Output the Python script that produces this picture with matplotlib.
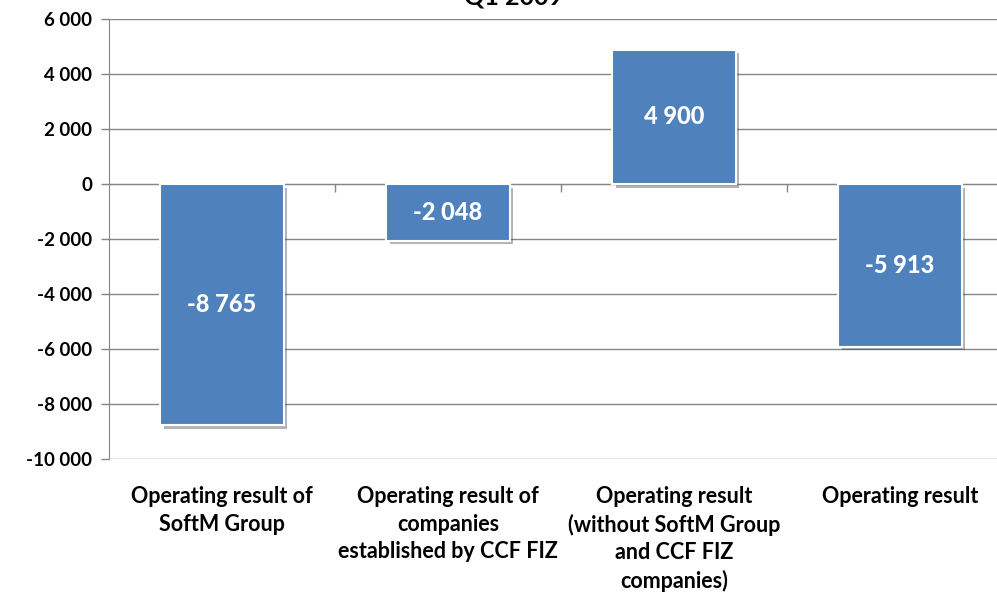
import matplotlib
matplotlib.use("Agg")
import matplotlib.pyplot as plt
import matplotlib.patheffects as pe
from matplotlib.transforms import blended_transform_factory

categories = [
    "Operating result of\nSoftM Group",
    "Operating result of\ncompanies\nestablished by CCF FIZ",
    "Operating result\n(without SoftM Group\nand CCF FIZ\ncompanies)",
    "Operating result",
]
values = [-8765, -2048, 4900, -5913]
yticks = [6000, 4000, 2000, 0, -2000, -4000, -6000, -8000, -10000]
title = "Q1 2009"


def fmt(v):
    return f"{v:,}".replace(",", " ")


plt.rcParams["font.family"] = ["Lato", "DejaVu Sans"]

fig = plt.figure(figsize=(9.97, 5.94), dpi=100, facecolor="white")
ax = fig.add_axes([0.1093, 0.2273, 0.9067, 0.7399])

x = list(range(len(values)))
bars = ax.bar(x, values, width=0.545, color="#4F81BD", edgecolor="white",
              linewidth=1.5, zorder=3)
for b in bars:
    b.set_path_effects([pe.SimplePatchShadow(offset=(2.5, -2.5), shadow_rgbFace="#444444", alpha=0.4),
                        pe.Normal()])

for xi, v in zip(x, values):
    ax.text(xi, v / 2, fmt(v), ha="center", va="center", color="white",
            fontsize=17, fontweight="black", zorder=4)

ax.set_xlim(-0.5, 3.5)
ax.set_ylim(-10000, 6000)
ax.set_yticks(yticks)
ax.set_yticklabels([fmt(t) for t in yticks], fontsize=13.5, fontweight="bold")
ax.tick_params(axis="y", length=6, width=1, color="#868686", pad=6)
ax.grid(axis="y", color="#868686", linewidth=1, zorder=0)
ax.set_axisbelow(True)

# category axis sits on zero, labels at the bottom
ax.spines["bottom"].set_position(("data", 0))
ax.spines["bottom"].set_color("#868686")
ax.spines["left"].set_color("#868686")
ax.spines["top"].set_visible(False)
ax.spines["right"].set_visible(False)
ax.set_xticks([0.5, 1.5, 2.5])
ax.set_xticklabels([])
ax.tick_params(axis="x", length=6, width=1, color="#868686", direction="out")

trans = blended_transform_factory(ax.transData, ax.transAxes)
for xi, lab in zip(x, categories):
    ax.text(xi, -0.062, lab, transform=trans, ha="center", va="top",
            fontsize=15.5, fontweight="bold", linespacing=1.37)

fig.text(0.5146, 0.9916, title, ha="center", va="baseline", fontsize=18,
         fontweight="bold")

fig.savefig("out.png", dpi=100)
